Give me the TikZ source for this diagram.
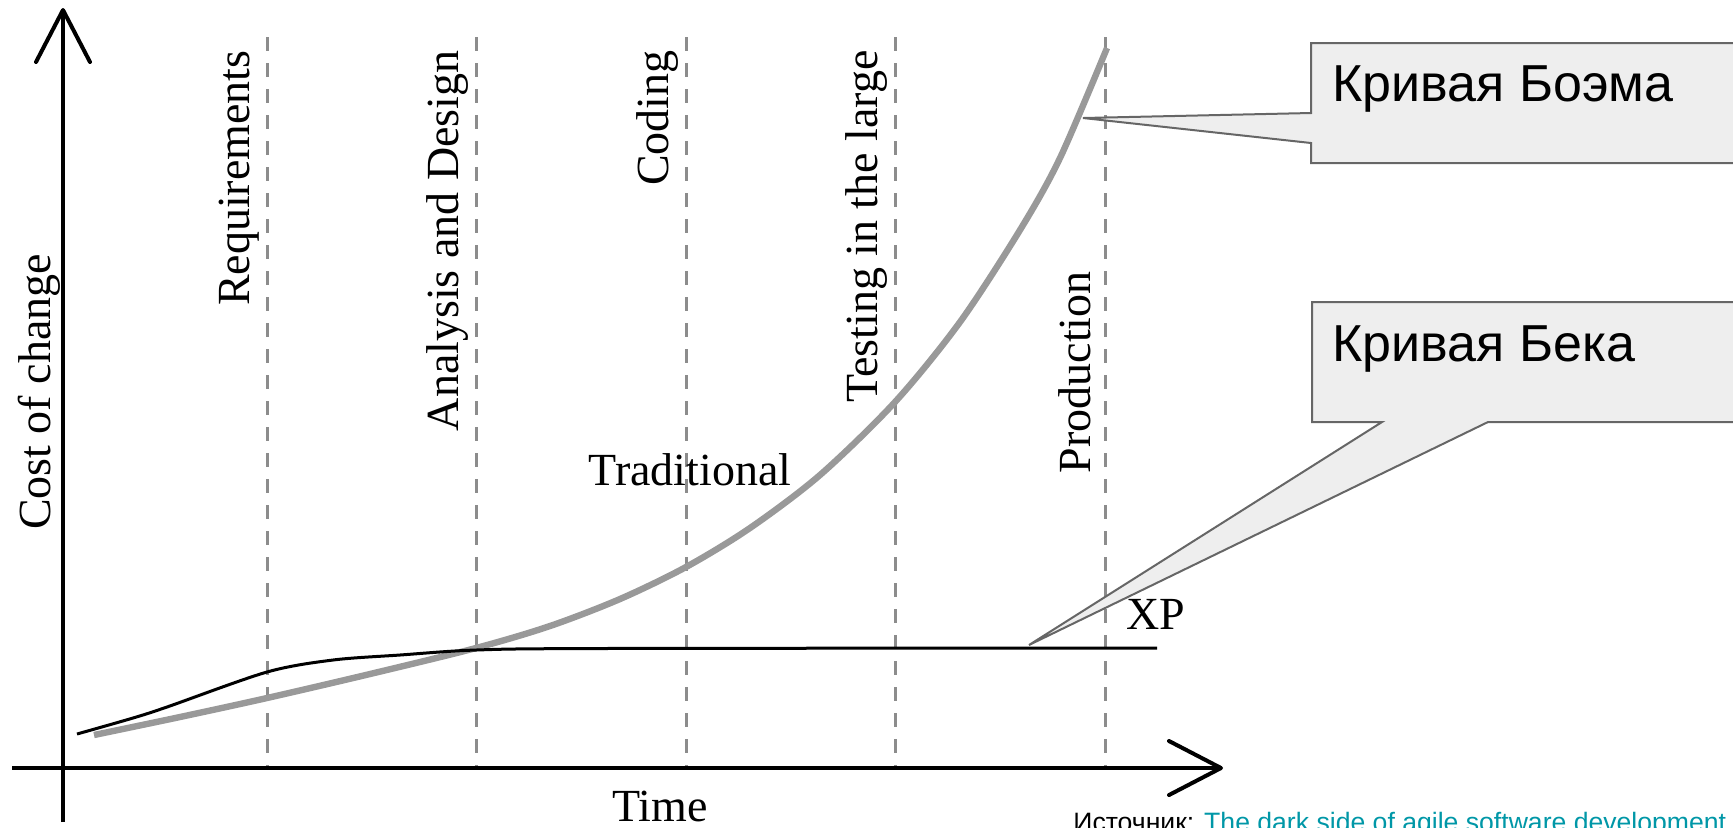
\documentclass[tikz,border=0pt]{standalone}
\usepackage{fontspec}
\setmainfont{Liberation Serif}
\newfontfamily\sansru{Liberation Sans}
\usetikzlibrary{arrows.meta}
\definecolor{curvegray}{HTML}{999999}
\definecolor{dashgray}{HTML}{8C8C8C}
\definecolor{boxfill}{HTML}{EEEEEE}
\definecolor{boxline}{HTML}{666666}
\definecolor{linkteal}{HTML}{0097A7}

\begin{document}
\begin{tikzpicture}[x=0.5pt,y=-0.5pt,
    axis/.style={line width=2pt,-{Straight Barb[length=26pt,width=27pt,round]}},
    phase/.style={dashgray,line width=1.5pt,dash pattern=on 7pt off 6pt},
    lbl/.style={font=\fontsize{23}{27}\selectfont,inner sep=0pt},
    phaselbl/.style={lbl,rotate=90,anchor=base east},
    callout/.style={fill=boxfill,draw=boxline,line width=1pt},
    calltext/.style={font=\sansru\fontsize{26}{30}\selectfont,inner sep=0pt,anchor=base west}]
    \useasboundingbox (0,0) rectangle (1733,827);
    \clip (0,0) rectangle (1733,827);
    % phase boundaries
    \foreach \x in {267,476,686,895,1105}
        \draw[phase] (\x,37) -- (\x,768);
    \node[phaselbl] (req) at (249,50) {Requirements};
    \node[phaselbl] (ana) at (458,50) {Analysis and Design};
    \node[phaselbl] (cod) at (668,50) {Coding};
    \node[phaselbl] (tst) at (877,50) {Testing in the large};
    \node[phaselbl] (prd) at (1090,271) {Production};
    % curves
    \draw[curvegray,line width=3.2pt] plot[smooth] coordinates {(94,735) (180,717) (267,698) (370,674) (476,648) (550,626) (620,599) (686,567) (750,528) (820,475) (895,402) (960,322) (1020,230) (1060,158) (1107,48)};
    \draw[black,line width=1.5pt] plot[smooth] coordinates {(77,734) (133,718) (167,707) (267,672) (333,660) (400,655) (476,650) (600,648.5) (1157,648)};
    \node[lbl] (trad) at (690,470) {Traditional};
    \node[lbl,anchor=base west] (xp) at (1126,629) {XP};
    % axes
    \coordinate (ybot) at (63,822);
    \coordinate (ytop) at (63,8);
    \coordinate (xleft) at (12,768);
    \coordinate (xright) at (1223,768);
    \draw[axis] (ybot) -- (ytop);
    \draw[axis] (xleft) -- (xright);
    \node[lbl,rotate=90,anchor=base] (cost) at (50,392) {Cost of change};
    \node[lbl,anchor=base] (time) at (660,821) {Time};
    % callouts
    \coordinate (boehmtip) at (1083,118);
    \draw[callout] (1311,113) -- (boehmtip) -- (1311,143) -- (1311,163) -- (1745,163) -- (1745,43) -- (1311,43) -- cycle;
    \node[calltext] (boehm) at (1332,101) {Кривая Боэма};
    \coordinate (becktip) at (1029,645);
    \draw[callout] (1382,422) -- (becktip) -- (1488,422) -- (1745,422) -- (1745,302) -- (1312,302) -- (1312,422) -- cycle;
    \node[calltext] (beck) at (1332,361) {Кривая Бека};
    % source
    \node[font=\sansru\fontsize{13.3}{15}\selectfont,inner sep=0pt,anchor=base west] (src) at (1073,831) {Источник: \textcolor{linkteal}{The dark side of agile software development}};
\end{tikzpicture}
\end{document}
